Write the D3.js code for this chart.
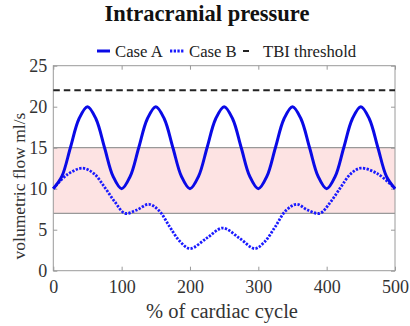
<!DOCTYPE html>
<html>
<head>
<meta charset="utf-8">
<script src="https://cdn.jsdelivr.net/npm/d3@7"></script>
<style>
  body { margin: 0; background: #fff; }
  svg { display: block; }
  svg text { font-family: "Liberation Serif", "Times New Roman", serif; }
</style>
</head>
<body>
<svg class="chart" width="410" height="326"></svg>
<script>
// values
const caseAX = [0, 12.5, 25, 37.5, 50, 62.5, 75, 87.5, 100, 112.5, 125, 137.5, 150, 162.5, 175, 187.5, 200,
  212.5, 225, 237.5, 250, 262.5, 275, 287.5, 300, 312.5, 325, 337.5, 350, 362.5, 375, 387.5, 400,
  412.5, 425, 437.5, 450, 462.5, 475, 487.5, 500];
const caseAY = [10, 11.5, 15, 18.5, 20, 18.5, 15, 11.5, 10, 11.5, 15, 18.5, 20, 18.5, 15, 11.5, 10,
  11.5, 15, 18.5, 20, 18.5, 15, 11.5, 10, 11.5, 15, 18.5, 20, 18.5, 15, 11.5, 10,
  11.5, 15, 18.5, 20, 18.5, 15, 11.5, 10];
const caseBX = [0, 20, 43, 60, 75, 90, 105, 122, 140, 155, 170, 185, 200, 225, 248, 272, 295, 310, 325, 340, 356, 372, 390, 405, 420, 435, 450, 475, 500];
const caseBY = [10, 11.7, 12.5, 11.8, 10.2, 8.4, 7.0, 7.4, 8.1, 7.3, 5.4, 3.6, 2.7, 4.0, 5.2, 4.0, 2.7, 3.6, 5.4, 7.3, 8.1, 7.4, 7.0, 8.3, 10.1, 11.8, 12.5, 11.8, 10];
const threshold = 22;
const normalBand = [7, 15];
const xTicks = [0, 100, 200, 300, 400, 500];
const yTicks = [0, 5, 10, 15, 20, 25];

const margin = { top: 65.7, right: 15, bottom: 55.3, left: 53.3 };
const width = 410, height = 326;
const w = width - margin.left - margin.right;
const h = height - margin.top - margin.bottom;

const svg = d3.select('.chart');
const g = svg.append('g').attr('transform', `translate(${margin.left},${margin.top})`);

const x = d3.scaleLinear().domain([0, 500]).range([0, w]);
const y = d3.scaleLinear().domain([0, 25]).range([h, 0]);

// normal range band
g.append('rect')
  .attr('x', 0).attr('width', w)
  .attr('y', y(normalBand[1]))
  .attr('height', y(normalBand[0]) - y(normalBand[1]))
  .attr('fill', '#fde3e3');
normalBand.forEach(v => {
  g.append('line')
    .attr('x1', 0).attr('x2', w)
    .attr('y1', y(v)).attr('y2', y(v))
    .attr('stroke', '#999').attr('stroke-width', 1.2);
});

// box with inward ticks
const frameColor = '#9a9a9a';
g.append('rect').attr('width', w).attr('height', h)
  .attr('fill', 'none').attr('stroke', frameColor).attr('stroke-width', 1);

const xAxis = g.append('g').attr('transform', `translate(0,${h})`)
  .call(d3.axisBottom(x).tickValues(xTicks).tickSize(-4).tickPadding(10));
const xTop = g.append('g')
  .call(d3.axisTop(x).tickValues(xTicks).tickSize(-4).tickFormat(''));
const yAxis = g.append('g')
  .call(d3.axisLeft(y).tickValues(yTicks).tickSize(-4).tickPadding(6));
const yRight = g.append('g').attr('transform', `translate(${w},0)`)
  .call(d3.axisRight(y).tickValues(yTicks).tickSize(-4).tickFormat(''));

[xAxis, xTop, yAxis, yRight].forEach(a => {
  a.attr('font-family', null);
  a.select('.domain').remove();
  a.selectAll('.tick line').attr('stroke', frameColor);
  a.selectAll('.tick text').attr('fill', '#333').attr('font-size', 18);
});

// threshold line
g.append('line')
  .attr('x1', 0).attr('x2', w)
  .attr('y1', y(threshold)).attr('y2', y(threshold))
  .attr('stroke', '#222').attr('stroke-width', 2)
  .attr('stroke-dasharray', '6.5,4');

const line = d3.line().x(d => x(d[0])).y(d => y(d[1])).curve(d3.curveCatmullRom.alpha(0.5));

g.append('path')
  .datum(caseBX.map((v, i) => [v, caseBY[i]]))
  .attr('d', line)
  .attr('fill', 'none')
  .attr('stroke', '#1a1aff').attr('stroke-width', 2.8)
  .attr('stroke-dasharray', '2.3,1.4');

g.append('path')
  .datum(caseAX.map((v, i) => [v, caseAY[i]]))
  .attr('d', line)
  .attr('fill', 'none')
  .attr('stroke', '#0a0ae6').attr('stroke-width', 3);

// title
svg.append('text')
  .attr('x', 207).attr('y', 21)
  .attr('text-anchor', 'middle')
  .attr('font-size', 22.5).attr('font-weight', 'bold')
  .attr('fill', '#111')
  .text('Intracranial pressure');

// axis labels
svg.append('text')
  .attr('x', 222).attr('y', 318)
  .attr('text-anchor', 'middle')
  .attr('font-size', 20.5).attr('fill', '#333')
  .text('% of cardiac cycle');

svg.append('text')
  .attr('transform', 'translate(25,186) rotate(-90)')
  .attr('text-anchor', 'middle')
  .attr('font-size', 17.5).attr('fill', '#333')
  .text('volumetric flow ml/s');

// legend
const legend = svg.append('g').attr('font-size', 16.7).attr('fill', '#222');
legend.append('line').attr('x1', 97).attr('x2', 110).attr('y1', 51).attr('y2', 51)
  .attr('stroke', '#0a0ae6').attr('stroke-width', 3);
legend.append('text').attr('x', 115).attr('y', 56.5).text('Case A');
legend.append('line').attr('x1', 170).attr('x2', 184).attr('y1', 51).attr('y2', 51)
  .attr('stroke', '#1a1aff').attr('stroke-width', 2.8).attr('stroke-dasharray', '2.3,1.4');
legend.append('text').attr('x', 189).attr('y', 56.5).text('Case B');
legend.append('line').attr('x1', 243).attr('x2', 249).attr('y1', 51).attr('y2', 51)
  .attr('stroke', '#222').attr('stroke-width', 2);
legend.append('text').attr('x', 263).attr('y', 56.5).text('TBI threshold');
</script>
</body>
</html>
